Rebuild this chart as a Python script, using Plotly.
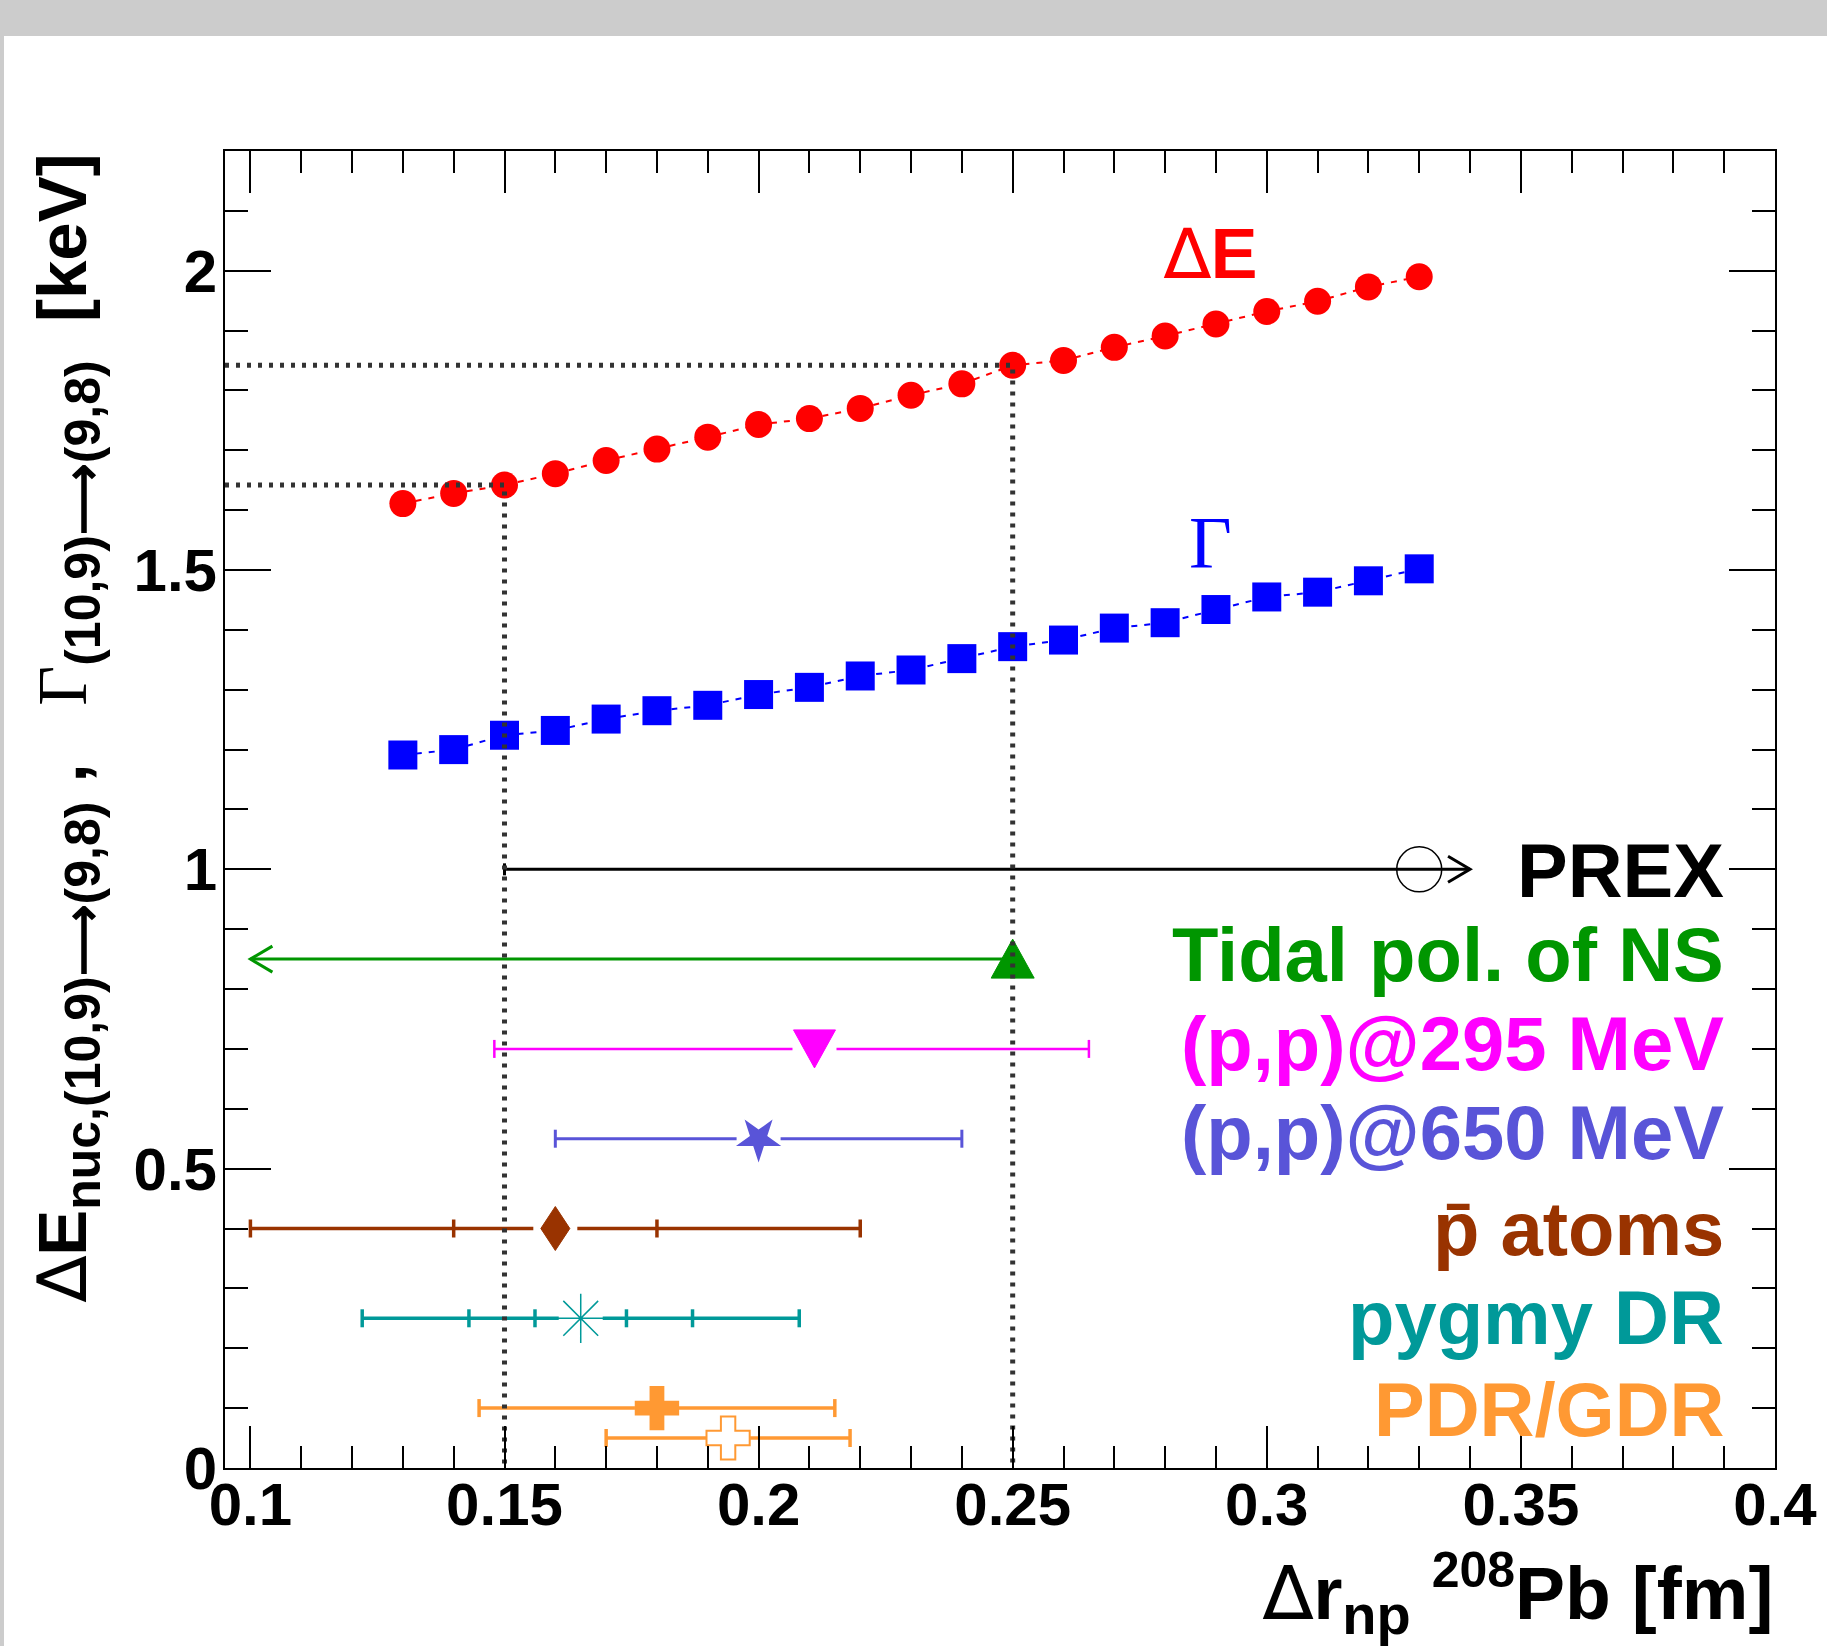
import plotly.graph_objects as go

# ---------------- data ----------------
dr_np = [0.13, 0.14, 0.15, 0.16, 0.17, 0.18, 0.19, 0.20, 0.21, 0.22, 0.23,
         0.24, 0.25, 0.26, 0.27, 0.28, 0.29, 0.30, 0.31, 0.32, 0.33]
delta_E = [1.611, 1.628, 1.642, 1.661, 1.683, 1.702, 1.722, 1.743, 1.753, 1.770, 1.792,
           1.811, 1.842, 1.850, 1.872, 1.891, 1.911, 1.932, 1.949, 1.973, 1.990]
gamma = [1.191, 1.200, 1.224, 1.232, 1.251, 1.265, 1.274, 1.292, 1.304, 1.323, 1.333,
         1.352, 1.372, 1.383, 1.403, 1.412, 1.434, 1.455, 1.463, 1.482, 1.502]
highlight_dr = [0.15, 0.25]

# experiments: central value, row (y), bounds (inner -> outer)
prex_central, prex_lower, prex_arrow_end, prex_y = 0.33, 0.15, 0.34, 1.0
tidal_central, tidal_arrow_end, tidal_y = 0.25, 0.10, 0.85
pp295_central, pp295_bounds, pp295_y = 0.211, [(0.148, 0.265)], 0.70
pp650_central, pp650_bounds, pp650_y = 0.20, [(0.16, 0.24)], 0.55
pbar_central, pbar_bounds, pbar_y = 0.16, [(0.14, 0.18), (0.10, 0.22)], 0.40
pygmy_central, pygmy_bounds, pygmy_y = 0.165, [(0.156, 0.174), (0.143, 0.187), (0.122, 0.208)], 0.25
pdr_a_central, pdr_a_bounds, pdr_a_y = 0.18, [(0.145, 0.215)], 0.10
pdr_b_central, pdr_b_bounds, pdr_b_y = 0.194, [(0.170, 0.218)], 0.05

exp_labels = ["PREX", "Tidal pol. of NS", "(p,p)@295 MeV", "(p,p)@650 MeV",
              "p\u0304 atoms", "pygmy DR", "PDR/GDR"]

# ---------------- style ----------------
W, H = 1827, 1646
ML, MR, MT, MB = 225, 52, 151, 178
PW, PH = W - ML - MR, H - MT - MB
XR = [0.095, 0.40001]
YR = [-0.0001, 2.2]
DX = (XR[1] - XR[0]) / PW   # data units per px
DY = (YR[1] - YR[0]) / PH

RED, BLUE = "#ff0000", "#0000ff"
GREEN, MAG, SLATE = "#009600", "#ff00ff", "#5954d8"
BROWN, TEAL, ORANGE = "#993300", "#009999", "#ff9933"
FONT = "Liberation Sans"
label_colors = ["#000000", GREEN, MAG, SLATE, BROWN, TEAL, ORANGE]
label_y = [0.998, 0.858, 0.709, 0.560, 0.400, 0.252, 0.098]

fig = go.Figure()

# theory curves
fig.add_trace(go.Scatter(x=dr_np, y=delta_E, mode="lines+markers",
                         line=dict(color=RED, width=2, dash="6px,7px"),
                         marker=dict(symbol="circle", size=27, color=RED)))
fig.add_trace(go.Scatter(x=dr_np, y=gamma, mode="lines+markers",
                         line=dict(color=BLUE, width=2, dash="6px,7px"),
                         marker=dict(symbol="square", size=29, color=BLUE)))


def err_segments(c, y, bounds, gap_px=22, cap_px=9):
    lo, hi = bounds[-1]
    xs = [lo, c - gap_px * DX, None, c + gap_px * DX, hi, None]
    ys = [y, y, None, y, y, None]
    for b in bounds:
        for v in b:
            xs += [v, v, None]
            ys += [y - cap_px * DY, y + cap_px * DY, None]
    return xs, ys


def chevron(tip, y, direction, dx_px=22, dy_px=13):
    back = tip - direction * dx_px * DX
    return [back, tip, back], [y + dy_px * DY, y, y - dy_px * DY]


def polygon(cx, cy, pts_px):
    xs = [cx + px * DX for px, py in pts_px] + [cx + pts_px[0][0] * DX]
    ys = [cy - py * DY for px, py in pts_px] + [cy - pts_px[0][1] * DY]
    return xs, ys


TRI_UP = [(0, -20), (21.5, 19), (-21.5, 19)]
TRI_DOWN = [(-21, -19), (21, -19), (0, 19)]
DIAMOND = [(0, -22), (14.5, 0), (0, 22), (-14.5, 0)]

# PREX
fig.add_trace(go.Scatter(x=[prex_lower, prex_arrow_end, None, prex_lower, prex_lower],
                         y=[prex_y, prex_y, None, prex_y - 6 * DY, prex_y + 6 * DY],
                         mode="lines", line=dict(color="black", width=3)))
cx, cy = chevron(prex_arrow_end, prex_y, 1)
fig.add_trace(go.Scatter(x=cx, y=cy, mode="lines", line=dict(color="black", width=3)))
fig.add_trace(go.Scatter(x=[prex_central], y=[prex_y], mode="markers",
                         marker=dict(symbol="circle-open", size=45, color="black",
                                     line=dict(color="black", width=1.5))))

# Tidal polarizability of neutron stars
fig.add_trace(go.Scatter(x=[tidal_central, tidal_arrow_end], y=[tidal_y, tidal_y], mode="lines",
                         line=dict(color=GREEN, width=3)))
cx, cy = chevron(tidal_arrow_end, tidal_y, -1)
fig.add_trace(go.Scatter(x=cx, y=cy, mode="lines", line=dict(color=GREEN, width=3)))
px_, py_ = polygon(tidal_central, tidal_y, TRI_UP)
fig.add_trace(go.Scatter(x=px_, y=py_, mode="lines", fill="toself", fillcolor=GREEN,
                         line=dict(color=GREEN, width=1)))

# other experiments
exps = [
    (pp295_central, pp295_y, pp295_bounds, MAG, ("poly", TRI_DOWN), 2.5),
    (pp650_central, pp650_y, pp650_bounds, SLATE, dict(symbol="star", size=34, color=SLATE, angle=180), 3),
    (pbar_central, pbar_y, pbar_bounds, BROWN, ("poly", DIAMOND), 3.5),
    (pygmy_central, pygmy_y, pygmy_bounds, TEAL, dict(symbol="asterisk-open", size=41, color=TEAL,
                                                       line=dict(color=TEAL, width=1.5)), 3.5),
    (pdr_a_central, pdr_a_y, pdr_a_bounds, ORANGE, dict(symbol="cross", size=37, color=ORANGE), 3.5),
    (pdr_b_central, pdr_b_y, pdr_b_bounds, ORANGE, dict(symbol="cross", size=36, color="white",
                                                         line=dict(color=ORANGE, width=2)), 3.5),
]
for c, y, b, col, mk, lw in exps:
    xs, ys = err_segments(c, y, b)
    fig.add_trace(go.Scatter(x=xs, y=ys, mode="lines", line=dict(color=col, width=lw)))
    if isinstance(mk, tuple):
        px_, py_ = polygon(c, y, mk[1])
        fig.add_trace(go.Scatter(x=px_, y=py_, mode="lines", fill="toself", fillcolor=col,
                                 line=dict(color=col, width=1)))
    else:
        fig.add_trace(go.Scatter(x=[c], y=[y], mode="markers", marker=mk))

# dotted guide lines from the highlighted theory points
for hx in highlight_dr:
    hy = delta_E[dr_np.index(hx)]
    fig.add_trace(go.Scatter(x=[XR[0], hx, hx], y=[hy, hy, 0], mode="lines",
                             line=dict(color="#333333", width=5, dash="4px,7px")))

# labels on the right
for txt, col, ly in zip(exp_labels, label_colors, label_y):
    fig.add_annotation(x=(1726 - ML) / PW, y=ly, xref="paper", yref="y", text=txt,
                       showarrow=False, xanchor="right", yanchor="middle",
                       font=dict(family=FONT, size=76, color=col, weight="bold"))

# curve labels
DELTA = "<span style='font-family:DejaVu Sans;font-weight:normal'>\u2206</span>"
fig.add_annotation(x=0.2890, y=2.028, xref="x", yref="y", text=DELTA + "E",
                   showarrow=False, xanchor="center", yanchor="middle",
                   font=dict(family=FONT, size=70, color=RED, weight="bold"))
fig.add_annotation(x=0.2890, y=1.545, xref="x", yref="y", text="\u0393",
                   showarrow=False, xanchor="center", yanchor="middle",
                   font=dict(family="Liberation Serif", size=74, color=BLUE))

# axis titles
SUB = "<sub><span style='font-size:50px'>{}</span></sub>"
NB = "\u00a0"
ytitle = (DELTA + "E" + SUB.format("nuc,(10,9)\u27f6(9,8)") + NB + "," + NB * 3
          + "<span style='font-family:Liberation Serif;font-weight:normal'>\u0393</span>"
          + SUB.format("(10,9)\u27f6(9,8)") + NB * 2 + "[keV]")
fig.add_annotation(x=(66 - ML) / PW, y=1.0, xref="paper", yref="paper", text=ytitle,
                   textangle=-90, showarrow=False, xanchor="center", yanchor="top",
                   font=dict(family=FONT, size=69, color="black", weight="bold"))
xtitle = DELTA + "r<sub><span style='font-size:56px'>np</span></sub>" + NB \
    + "<sup><span style='font-size:50px'>208</span></sup>Pb [fm]"
fig.add_annotation(x=1.0, y=(1468 - 1594) / PH, xref="paper", yref="paper", text=xtitle,
                   showarrow=False, xanchor="right", yanchor="middle",
                   font=dict(family=FONT, size=75, color="black", weight="bold"))

# window frame (grey bar on top and thin strip on the left)
fig.add_shape(type="rect", xref="paper", yref="paper", x0=-ML / PW, x1=(W - ML) / PW,
              y0=(1468 - 36) / PH, y1=1468 / PH, fillcolor="#cccccc", line_width=0, layer="below")
fig.add_shape(type="rect", xref="paper", yref="paper", x0=-ML / PW, x1=(4 - ML) / PW,
              y0=(1468 - H) / PH, y1=1468 / PH, fillcolor="#cccccc", line_width=0, layer="below")

axis_common = dict(showgrid=False, zeroline=False, showline=True, linecolor="black", linewidth=2,
                   mirror="allticks", ticks="inside", tickcolor="black", tickwidth=2,
                   tickfont=dict(family=FONT, size=60, color="black", weight="bold"))
fig.update_xaxes(range=XR, tick0=0.1, dtick=0.05, ticklen=42, ticklabelstandoff=-17,
                 minor=dict(dtick=0.01, tick0=0.1, ticklen=22, ticks="inside", tickwidth=2,
                            tickcolor="black"),
                 **axis_common)
fig.update_yaxes(range=YR, tick0=0, dtick=0.5, ticklen=46, ticklabelstandoff=-6,
                 minor=dict(dtick=0.1, tick0=0, ticklen=23, ticks="inside", tickwidth=2,
                            tickcolor="black"),
                 **axis_common)
fig.update_layout(width=W, height=H, margin=dict(l=ML, r=MR, t=MT, b=MB, autoexpand=False),
                  paper_bgcolor="white", plot_bgcolor="white", showlegend=False)

fig.write_html("out.html", config={"displayModeBar": False},
               post_script="document.body.style.margin='0';")
